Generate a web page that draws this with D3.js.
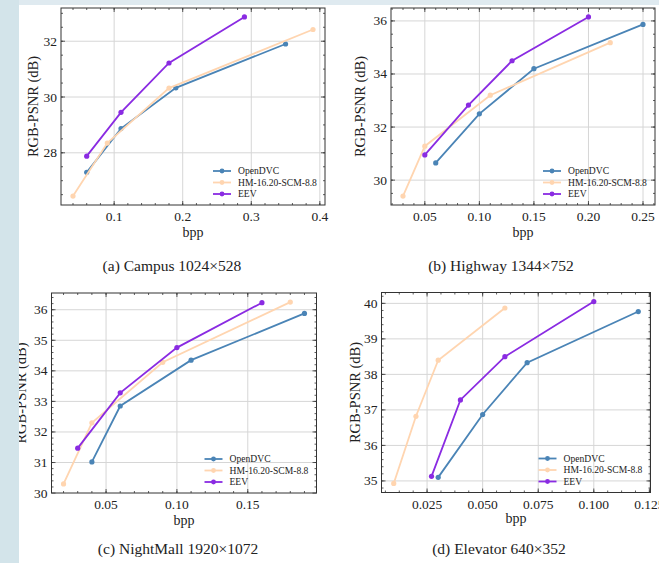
<!DOCTYPE html>
<html>
<head>
<meta charset="utf-8">
<script src="https://cdn.jsdelivr.net/npm/d3@7"></script>
<style>
  body { margin: 0; background: #fff; }
  svg text { font-family: "Liberation Serif", "DejaVu Serif", serif; fill: #222; }
</style>
</head>
<body>
<div id="chart"></div>
<script>
// methods and colours
const methods = ["OpenDVC", "HM-16.20-SCM-8.8", "EEV"];
const colors = ["#4a84b6", "#ffd5b0", "#8a2be2"];

// (a) Campus: [bpp, psnr]
const campusOpenDVC = [[0.06, 27.3], [0.11, 28.87], [0.19, 30.33], [0.35, 31.9]];
const campusHM = [[0.04, 26.45], [0.09, 28.35], [0.18, 30.32], [0.39, 32.42]];
const campusEEV = [[0.06, 27.88], [0.11, 29.45], [0.18, 31.22], [0.29, 32.87]];

// (b) Highway
const highwayOpenDVC = [[0.06, 30.65], [0.10, 32.5], [0.15, 34.2], [0.25, 35.87]];
const highwayHM = [[0.03, 29.4], [0.05, 31.28], [0.11, 33.2], [0.22, 35.18]];
const highwayEEV = [[0.05, 30.95], [0.09, 32.83], [0.13, 34.5], [0.20, 36.15]];

// (c) NightMall
const nightOpenDVC = [[0.04, 31.02], [0.06, 32.85], [0.11, 34.35], [0.19, 35.88]];
const nightHM = [[0.02, 30.3], [0.04, 32.3], [0.09, 34.28], [0.18, 36.25]];
const nightEEV = [[0.03, 31.47], [0.06, 33.28], [0.10, 34.76], [0.16, 36.23]];

// (d) Elevator
const elevatorOpenDVC = [[0.03, 35.1], [0.05, 36.87], [0.07, 38.33], [0.12, 39.77]];
const elevatorHM = [[0.01, 34.93], [0.02, 36.82], [0.03, 38.4], [0.06, 39.87]];
const elevatorEEV = [[0.027, 35.13], [0.04, 37.28], [0.06, 38.5], [0.10, 40.05]];

// tick values
const campusXTicks = [0.1, 0.2, 0.3, 0.4];
const campusYTicks = [28, 30, 32];
const highwayXTicks = [0.05, 0.10, 0.15, 0.20, 0.25];
const highwayYTicks = [30, 32, 34, 36];
const nightXTicks = [0.05, 0.10, 0.15];
const nightYTicks = [30, 31, 32, 33, 34, 35, 36];
const elevatorXTicks = [0.025, 0.050, 0.075, 0.100, 0.125];
const elevatorYTicks = [35, 36, 37, 38, 39, 40];

const captions = ["(a) Campus 1024×528", "(b) Highway 1344×752",
                  "(c) NightMall 1920×1072", "(d) Elevator 640×352"];

const panels = [
  {series: [campusOpenDVC, campusHM, campusEEV], xTicks: campusXTicks, yTicks: campusYTicks,
   xMinor: 0.02, yMinor: 0.5, fmt: ".1f", box: [61, 325, 8, 205], ylabX: 38, bppY: 237, cap: [172, 271]},
  {series: [highwayOpenDVC, highwayHM, highwayEEV], xTicks: highwayXTicks, yTicks: highwayYTicks,
   xMinor: 0.01, yMinor: 0.5, fmt: ".2f", box: [391, 655, 8, 205], ylabX: 365, bppY: 237, cap: [501, 271]},
  {series: [nightOpenDVC, nightHM, nightEEV], xTicks: nightXTicks, yTicks: nightYTicks,
   xMinor: 0.01, yMinor: 0.2, fmt: ".2f", box: [51.5, 316.5, 293, 493], ylabX: 26, bppY: 525, cap: [178, 554]},
  {series: [elevatorOpenDVC, elevatorHM, elevatorEEV], xTicks: elevatorXTicks, yTicks: elevatorYTicks,
   xMinor: 0.00625, yMinor: 0.2, fmt: ".3f", box: [381.5, 650.5, 292.5, 492.5], ylabX: 360, bppY: 523, cap: [499, 554]}
];

const width = 659, height = 563;
const svg = d3.select("#chart").append("svg")
  .attr("width", width).attr("height", height)
  .style("background", "#fff");

// matplotlib-like 5% padding around the data
function padded(vals) {
  const [a, b] = d3.extent(vals);
  const m = (b - a) * 0.05;
  return [a - m, b + m];
}

function range(start, stop, step) {
  const out = [];
  const n = Math.ceil(start / step);
  for (let i = n; i * step <= stop + 1e-9; i++) out.push(i * step);
  return out;
}

panels.forEach((p, idx) => {
  const [x0, x1, y0, y1] = p.box;
  const all = p.series.flat();
  const x = d3.scaleLinear().domain(padded(all.map(d => d[0]))).range([x0, x1]);
  const y = d3.scaleLinear().domain(padded(all.map(d => d[1]))).range([y1, y0]);
  const g = svg.append("g");

  // grid
  g.selectAll(".gx").data(p.xTicks.filter(t => x(t) > x0 && x(t) < x1)).enter().append("line")
    .attr("x1", d => x(d)).attr("x2", d => x(d)).attr("y1", y0).attr("y2", y1)
    .attr("stroke", "#d6d6d6").attr("stroke-width", 1);
  g.selectAll(".gy").data(p.yTicks.filter(t => y(t) > y0 && y(t) < y1)).enter().append("line")
    .attr("y1", d => y(d)).attr("y2", d => y(d)).attr("x1", x0).attr("x2", x1)
    .attr("stroke", "#d6d6d6").attr("stroke-width", 1);

  // inward ticks on all four sides
  const xMinor = range(x.domain()[0], x.domain()[1], p.xMinor);
  const yMinor = range(y.domain()[0], y.domain()[1], p.yMinor);
  const tick = (vals, len, horiz) => {
    vals.forEach(v => {
      if (horiz) {
        const px = x(v);
        g.append("line").attr("x1", px).attr("x2", px).attr("y1", y1).attr("y2", y1 - len)
          .attr("stroke", "#333").attr("stroke-width", 0.8);
        g.append("line").attr("x1", px).attr("x2", px).attr("y1", y0).attr("y2", y0 + len)
          .attr("stroke", "#333").attr("stroke-width", 0.8);
      } else {
        const py = y(v);
        g.append("line").attr("y1", py).attr("y2", py).attr("x1", x0).attr("x2", x0 + len)
          .attr("stroke", "#333").attr("stroke-width", 0.8);
        g.append("line").attr("y1", py).attr("y2", py).attr("x1", x1).attr("x2", x1 - len)
          .attr("stroke", "#333").attr("stroke-width", 0.8);
      }
    });
  };
  tick(xMinor, 2, true);
  tick(yMinor, 2, false);
  tick(p.xTicks, 4, true);
  tick(p.yTicks, 4, false);

  // frame
  g.append("rect").attr("x", x0).attr("y", y0).attr("width", x1 - x0).attr("height", y1 - y0)
    .attr("fill", "none").attr("stroke", "#333").attr("stroke-width", 1);

  // tick labels
  const fmt = d3.format(p.fmt);
  g.selectAll(".xl").data(p.xTicks).enter().append("text")
    .attr("x", d => x(d)).attr("y", y1 + 16).attr("text-anchor", "middle")
    .attr("font-size", 13.5).text(d => fmt(d));
  g.selectAll(".yl").data(p.yTicks).enter().append("text")
    .attr("x", x0 - 4).attr("y", d => y(d) + 4.5).attr("text-anchor", "end")
    .attr("font-size", 13.5).text(d => d);

  // axis labels
  g.append("text").attr("x", (x0 + x1) / 2).attr("y", p.bppY).attr("text-anchor", "middle")
    .attr("font-size", 14).text("bpp");
  g.append("text").attr("transform", `translate(${p.ylabX},${(y0 + y1) / 2}) rotate(-90)`)
    .attr("text-anchor", "middle").attr("font-size", 14.5).text("RGB-PSNR (dB)");

  // series
  const line = d3.line().x(d => x(d[0])).y(d => y(d[1]));
  p.series.forEach((s, i) => {
    g.append("path").datum(s).attr("d", line).attr("fill", "none")
      .attr("stroke", colors[i]).attr("stroke-width", 1.8);
    g.selectAll(".pt" + i).data(s).enter().append("circle")
      .attr("cx", d => x(d[0])).attr("cy", d => y(d[1])).attr("r", 2.6)
      .attr("fill", colors[i]);
  });

  // legend, lower right
  const lx = x1 - 112, ly = y1 - 34;
  methods.forEach((m, i) => {
    const yy = ly + i * 11.5;
    g.append("line").attr("x1", lx).attr("x2", lx + 18).attr("y1", yy).attr("y2", yy)
      .attr("stroke", colors[i]).attr("stroke-width", 1.8);
    g.append("circle").attr("cx", lx + 9).attr("cy", yy).attr("r", 2.4).attr("fill", colors[i]);
    g.append("text").attr("x", lx + 25).attr("y", yy + 3.3).attr("font-size", 9.6).text(m);
  });

  // caption
  svg.append("text").attr("x", p.cap[0]).attr("y", p.cap[1]).attr("text-anchor", "middle")
    .attr("font-size", 15.5).text(captions[idx]);
});

// page edge strips from the screenshot
svg.append("rect").attr("x", 0).attr("y", 0).attr("width", width).attr("height", 5).attr("fill", "#dfeaf0");
svg.append("rect").attr("x", 0).attr("y", 0).attr("width", 19).attr("height", height).attr("fill", "#d3e4ea");
</script>
</body>
</html>
